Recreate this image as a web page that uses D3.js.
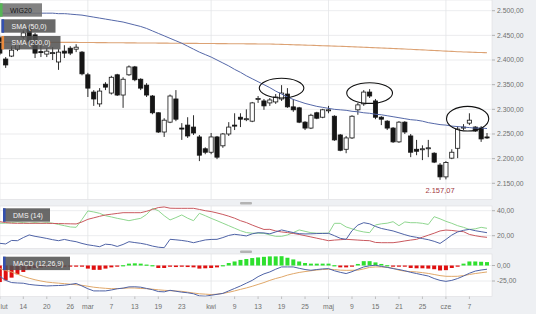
<!DOCTYPE html>
<html>
<head>
<meta charset="utf-8">
<script src="https://cdn.jsdelivr.net/npm/d3@7"></script>
<style>
  body { margin: 0; background: #fff; }
  svg { display: block; font-family: "Liberation Sans", Arial, sans-serif; }
</style>
</head>
<body>
<div id="chart"></div>
<script>
/* DATA */
const opens = [2445,2402,2408,2422,2447,2465,2451,2417,2412,2414,
  2396,2418,2424,2422,2416,2370,2335,2311,2351,2333,
  2370,2329,2370,2386,2361,2349,2327,2293,2254,2274,
  2321,2262,2268,2264,2244,2220,2213,2244,2226,2250,
  2268,2284,2280,2276,2321,2317,2313,2315,2321,2331,
  2305,2303,2274,2262,2293,2284,2298,2286,2248,2219,
  2242,2299,2311,2335,2317,2284,2276,2262,2234,2274,
  2246,2219,2219,2221,2211,2187,2163,2201,2221,2263,
  2272,2264,2262,2244];
const highs = [2449,2406,2428,2440,2460,2469,2455,2434,2424,2426,
  2422,2430,2428,2432,2418,2374,2339,2343,2355,2368,
  2372,2365,2389,2388,2363,2353,2329,2294,2282,2330,
  2339,2272,2284,2288,2248,2223,2252,2246,2252,2274,
  2292,2292,2300,2315,2327,2321,2323,2331,2349,2343,
  2321,2305,2276,2291,2295,2301,2307,2288,2250,2246,
  2288,2313,2339,2341,2321,2286,2278,2264,2276,2276,
  2250,2238,2227,2238,2213,2191,2195,2219,2266,2270,
  2292,2266,2266,2252];
const lows = [2410,2384,2406,2418,2443,2430,2404,2406,2406,2400,
  2380,2404,2410,2416,2369,2325,2307,2305,2339,2330,
  2327,2303,2368,2357,2339,2325,2290,2252,2244,2272,
  2276,2238,2242,2248,2195,2209,2209,2199,2222,2246,
  2258,2264,2276,2274,2313,2299,2307,2311,2317,2303,
  2295,2272,2258,2260,2280,2282,2292,2236,2215,2211,
  2240,2289,2307,2323,2280,2268,2258,2232,2232,2250,
  2203,2207,2197,2203,2191,2157.07,2158,2199,2201,2258,
  2268,2254,2234,2240];
const closes = [2414,2390,2420,2434,2455,2437,2414,2416,2418,2415,
  2416,2414,2414,2426,2372,2343,2321,2337,2345,2365,
  2329,2361,2386,2360,2343,2329,2293,2254,2278,2327,
  2280,2261,2246,2252,2207,2213,2244,2203,2250,2264,
  2267,2280,2281,2313,2322,2307,2319,2325,2333,2305,
  2299,2274,2262,2288,2282,2299,2299,2238,2217,2242,
  2286,2309,2335,2327,2284,2280,2262,2234,2274,2254,
  2213,2215,2220,2222,2193,2163,2192,2213,2260,2264,
  2278,2256,2240,2243];

const sma50 = [2495,2495,2495,2495,2495,2495,2495,2495,2495,2495,
  2494,2494,2493,2492,2491,2489,2487,2485,2483,2481,
  2479,2477,2474,2471,2468,2464,2459,2454,2449,2444,
  2439,2434,2428,2422,2416,2411,2406,2400,2394,2388,
  2381,2375,2368,2362,2356,2350,2344,2337,2331,2325,
  2320,2316,2312,2309,2306,2304,2302,2300,2299,2298,
  2296,2295,2293,2292,2290,2289,2287,2285,2283,2281,
  2279,2278,2276,2273,2271,2269,2268,2266,2265,2264,
  2263,2262,2262,2261];
const sma200 = [2436,2436,2436,2436,2436,2436,2435.9,2435.9,2435.9,2435.8,
  2435.8,2435.8,2435.7,2435.7,2435.6,2435.5,2435.4,2435.3,2435.2,2435.1,
  2435,2434.9,2434.8,2434.7,2434.6,2434.5,2434.4,2434.3,2434.2,2434.1,
  2434,2433.9,2433.8,2433.7,2433.6,2433.5,2433.4,2433.3,2433.2,2433.1,
  2433,2432.9,2432.8,2432.7,2432.6,2432.5,2432.4,2432.1,2431.8,2431.4,
  2431,2430.6,2430.2,2429.8,2429.4,2429,2428.6,2428.2,2427.8,2427.3,
  2426.8,2426.3,2425.8,2425.3,2424.8,2424.3,2423.8,2423.3,2422.8,2422.3,
  2421.7,2421.1,2420.5,2419.9,2419.3,2418.7,2418.1,2417.5,2416.9,2416.4,
  2415.9,2415.5,2415.1,2414.8];

const dmsPlus = [30,30,30.5,31,30.5,30,30.5,30,30.5,30,
  29,28,27,26.7,33,39.8,39,37.9,36,35,
  33.9,33,32,33,33.9,37,41.9,40,36,32.6,
  34.5,36.6,34,32,37.9,36,33.9,32,30,28,
  26,24,22.5,22,22,21.9,20.6,19.5,19.5,20.6,
  22.5,24.6,23.5,22.4,22,22,21.9,29.9,29.9,27,
  25.5,24,23,22.4,28.6,29.5,30,31.2,28,31,
  30.4,30.4,29.9,29,35.2,33.5,31.5,29.9,28,26.7,
  25,25.5,26.7,25.9];
const dmsMinus = [31.2,30.5,30,29.9,29.9,29.9,29.9,29.9,29.9,29.8,
  29.7,29.6,29.5,29.4,31,33.1,34.3,35.5,36.6,37.2,
  37.8,38.4,38.4,38.4,38.4,39.5,41,42.5,43,42,
  41.9,41.9,41.9,41.9,41,40,39.3,38.2,37,35.6,
  34,32,30.5,28.5,26.7,25,25.1,23.8,23,22.5,
  21.8,21,20,19,18,17,16,16.5,16.8,17.1,
  16.8,16.5,16.2,16,14.6,14.4,14.4,14.4,15,15.8,
  16.5,17.1,18.8,20.4,22,23.8,24.5,24.2,23.6,23.2,
  21,20,19.2,18.7];
const adx = [13.9,13.4,16.2,16,18.5,20.6,19.5,18.7,17.8,16.8,
  16,17,16,15.2,13.8,12.7,12,11.2,13.2,12.8,
  11.4,13,15.2,14.5,13.9,13,11.7,10.8,10.4,17.1,
  16.7,16.2,15.5,14.4,15.5,16.6,17,17.1,18.5,20.2,
  21.1,20.5,19.8,21.5,22.4,22.2,21.5,23,24.6,23.5,
  22.5,21.6,21.4,21.5,21.7,21.8,21.9,20,17.9,17.1,
  24,28.5,30.4,29.5,27.4,25.8,24.8,23.8,22.3,20.8,
  19.5,18.7,17.7,16.8,15.5,13.8,17,20.5,23,24.3,
  25.1,24,23.2,22.4];

const macd = [-17.4,-24,-27.5,-28.2,-28.6,-30.5,-31.6,-32.3,-33,-32.6,
  -32.3,-31.8,-30.5,-29,-33,-37.5,-41,-41,-41,-39.5,
  -37.5,-36.5,-34.5,-34.3,-35,-37,-39,-42,-42.5,-40,
  -41.5,-43,-44,-45.6,-49,-49.5,-48,-46.5,-45,-41,
  -37,-33,-28.5,-24,-18,-13.5,-10.4,-6,-2.3,-2.3,
  -2.3,-4.5,-6.5,-7.7,-6.5,-5.5,-5,-8.5,-11,-13,
  -10,-6,-2.3,-0.5,0.5,-1.5,-3,-5,-6.5,-8.5,
  -11,-13,-15,-17,-21,-24,-25.6,-24,-21,-17,
  -12.5,-9,-7.3,-6];
const signal = [-5,-8,-10.5,-14,-17.5,-20.5,-23,-25,-26.7,-27.7,
  -28.5,-29.3,-30.2,-31,-32,-33.5,-35,-36,-36.8,-37.4,
  -37.3,-36.8,-36.2,-36.3,-37,-37.4,-38.2,-39.2,-40,-40.6,
  -41.2,-41.7,-43,-44.4,-45.6,-46.2,-46.8,-46.3,-45,-43.2,
  -41,-38.5,-36.2,-33.5,-30.5,-27.5,-24,-21,-18.6,-15.5,
  -13.2,-11.2,-9.8,-8.5,-7.3,-6.5,-6,-6.6,-7.5,-7.8,
  -7.7,-7.5,-5.5,-3,-2.3,-2.3,-2.8,-4.5,-7.5,-9.2,
  -9.8,-10.4,-11.5,-12.8,-14.5,-16.3,-17.4,-17.5,-17.4,-16.2,
  -14.5,-13,-11.7,-10.4];
const hist = [-26.7,-24,-19.6,-14.2,-10.4,-6,-3.9,-3,-2.5,-2,
  -2,-1.5,-1.5,-1.5,-1,-5,-7,-7,-5,-3,
  -1.5,0.5,3,3.5,3,1.5,0.5,-4,-4,-2,
  -2.5,-2,-2.5,-3,-5,-4.5,-4,-3,0.5,4,
  6.5,9,10.5,12,13,14,14.7,14.7,15,12.5,
  9.8,6.5,4,3,3,3,3,0.5,-3,-3,
  -1,2.5,7,7,5,2.5,0.5,-1.5,-1.5,-1.5,
  -4,-4.5,-4.5,-5,-6,-8,-7.5,-4,-0.5,3,
  6.5,6.5,6,5.5];

const tickIndex = [0,4,8,12,15,19,23,27,31,36,40,44,48,52,56,60,64,68,72,76,80];
const tickLabels = ["lut","14","20","26","mar","7","13","19","23","kwi","9","13","19","25","maj","9","15","21","25","cze","7"];
const monthStarts = [15,36,56,76];
const priceTicks = [2150,2200,2250,2300,2350,2400,2450,2500];
const dmsTicks = [20,40];
const macdTicks = [-25,0];

// circled spots on the chart: candle index, price, half-width in candles, half-height in points
const marks = [
  { i: 48, price: 2343, rx: 3.8, ry: 20 },
  { i: 63, price: 2333, rx: 3.9, ry: 21 },
  { i: 79.7, price: 2281, rx: 3.6, ry: 25 }
];
const lowIndex = 75;

/* CONSTANTS */
const width = 536, height = 314, plotRight = 492;
const mainP = { top: 0, bottom: 199.5 };
const dmsP = { top: 206, bottom: 248.5 };
const macdP = { top: 254, bottom: 296.5 };

const pl = d3.formatLocale({ decimal: ",", thousands: ".", grouping: [3], currency: ["", ""], minus: "-" });
const fmt = pl.format(",.2f");

/* SCALES */
const xScale = d3.scaleLinear().domain([0, 83]).range([-0.17, 487]);
const yMain = d3.scaleLinear().domain([2150, 2500]).range([183.3, 10.7]);
const yDms = d3.scaleLinear().domain([20, 40]).range([235.7, 210.7]);
const yMacd = d3.scaleLinear().domain([-25, 0]).range([281, 265.5]);

const svg = d3.select("#chart").append("svg")
  .attr("width", width)
  .attr("height", height);

svg.append("rect").attr("width", width).attr("height", height).attr("fill", "#eef0f3");

const defs = svg.append("defs");
[["clipMain", mainP], ["clipDms", dmsP], ["clipMacd", macdP]].forEach(([id, p]) => {
  defs.append("clipPath").attr("id", id)
    .append("rect").attr("x", 0).attr("y", p.top).attr("width", plotRight).attr("height", p.bottom - p.top);
});

// panel backgrounds
[mainP, dmsP, macdP].forEach(p => {
  svg.append("rect")
    .attr("x", 0).attr("y", p.top)
    .attr("width", plotRight).attr("height", p.bottom - p.top)
    .attr("fill", "#fff")
    .attr("stroke", "#dcdde0").attr("stroke-width", 0.6);
});

// panel drag handles
[202, 250.5].forEach(y => {
  svg.append("rect").attr("x", 240).attr("y", y).attr("width", 12).attr("height", 2.6)
    .attr("rx", 1).attr("fill", "#b3b3b3");
});

/* GRID */
function hGrid(scale, ticks) {
  svg.append("g").selectAll("line").data(ticks).join("line")
    .attr("x1", 0).attr("x2", plotRight)
    .attr("y1", d => scale(d)).attr("y2", d => scale(d))
    .attr("stroke", "#e6e7ea").attr("stroke-width", 0.8);
  svg.append("g").selectAll("line").data(ticks).join("line")
    .attr("x1", plotRight).attr("x2", plotRight + 3)
    .attr("y1", d => scale(d)).attr("y2", d => scale(d))
    .attr("stroke", "#999").attr("stroke-width", 0.7);
  svg.append("g").selectAll("text").data(ticks).join("text")
    .attr("x", plotRight + 5)
    .attr("y", d => scale(d))
    .attr("dy", "0.35em")
    .attr("font-size", "6.8px")
    .attr("fill", "#707070")
    .text(d => fmt(d));
}
hGrid(yMain, priceTicks);
hGrid(yDms, dmsTicks);
hGrid(yMacd, macdTicks);

[mainP, dmsP, macdP].forEach(p => {
  svg.append("g").selectAll("line").data(monthStarts).join("line")
    .attr("x1", d => xScale(d)).attr("x2", d => xScale(d))
    .attr("y1", p.top).attr("y2", p.bottom)
    .attr("stroke", "#e3e4e7").attr("stroke-width", 0.8);
});

/* X AXIS */
svg.append("g").selectAll("line").data(tickIndex).join("line")
  .attr("x1", d => xScale(d)).attr("x2", d => xScale(d))
  .attr("y1", macdP.bottom).attr("y2", macdP.bottom + 2.5)
  .attr("stroke", "#aaa").attr("stroke-width", 0.7);
// the first label would run off the left edge, so it starts at the edge instead
svg.append("g").selectAll("text").data(tickIndex).join("text")
  .attr("x", d => Math.max(0.5, xScale(d)))
  .attr("y", 309)
  .attr("text-anchor", d => xScale(d) < 6 ? "start" : "middle")
  .attr("font-size", "6.8px")
  .attr("fill", "#707070")
  .text((d, k) => tickLabels[k]);

/* CANDLES */
const candles = d3.range(opens.length).map(i => ({
  i, o: opens[i], h: highs[i], l: lows[i], c: closes[i]
}));
const gMain = svg.append("g").attr("clip-path", "url(#clipMain)");

gMain.append("g").selectAll("line").data(candles).join("line")
  .attr("x1", d => xScale(d.i)).attr("x2", d => xScale(d.i))
  .attr("y1", d => yMain(d.h)).attr("y2", d => yMain(d.l))
  .attr("stroke", "#151515").attr("stroke-width", 0.9);

gMain.append("g").selectAll("rect").data(candles).join("rect")
  .attr("x", d => xScale(d.i) - 2.1)
  .attr("width", 4.2)
  .attr("y", d => yMain(Math.max(d.o, d.c)))
  .attr("height", d => Math.max(1, Math.abs(yMain(d.o) - yMain(d.c))))
  .attr("fill", d => d.c >= d.o ? "#fff" : "#151515")
  .attr("stroke", "#151515").attr("stroke-width", 0.8);

/* MOVING AVERAGES */
const lineMain = d3.line().x((d, i) => xScale(i)).y(d => yMain(d)).curve(d3.curveMonotoneX);
gMain.append("path").datum(sma200).attr("d", lineMain)
  .attr("fill", "none").attr("stroke", "#dca274").attr("stroke-width", 1.1);
gMain.append("path").datum(sma50).attr("d", lineMain)
  .attr("fill", "none").attr("stroke", "#5568a8").attr("stroke-width", 1);

// circled spots
gMain.append("g").selectAll("ellipse").data(marks).join("ellipse")
  .attr("cx", d => xScale(d.i))
  .attr("cy", d => yMain(d.price))
  .attr("rx", d => xScale(d.i + d.rx) - xScale(d.i))
  .attr("ry", d => yMain(d.price - d.ry) - yMain(d.price))
  .attr("fill", "none").attr("stroke", "#111").attr("stroke-width", 1.1);

// lowest price label
svg.append("text")
  .attr("x", xScale(lowIndex))
  .attr("y", yMain(lows[lowIndex]) + 13)
  .attr("text-anchor", "middle")
  .attr("font-size", "7.5px")
  .attr("fill", "#a33a44")
  .text(fmt(lows[lowIndex]));

/* DMS */
const gDms = svg.append("g").attr("clip-path", "url(#clipDms)");
const lineDms = d3.line().x((d, i) => xScale(i)).y(d => yDms(d));
[[dmsPlus, "#8fd68f"], [dmsMinus, "#c9595f"], [adx, "#4f63a6"]].forEach(([s, col]) => {
  gDms.append("path").datum(s).attr("d", lineDms)
    .attr("fill", "none").attr("stroke", col).attr("stroke-width", 1);
});

/* MACD */
const gMacd = svg.append("g").attr("clip-path", "url(#clipMacd)");
gMacd.append("g").selectAll("rect").data(hist).join("rect")
  .attr("x", (d, i) => xScale(i) - 2)
  .attr("width", 4)
  .attr("y", d => d >= 0 ? yMacd(d) : yMacd(0))
  .attr("height", d => Math.max(1.2, Math.abs(yMacd(d) - yMacd(0))))
  .attr("fill", d => d >= 0 ? "#2ee02e" : "#e01010");
const lineMacd = d3.line().x((d, i) => xScale(i)).y(d => yMacd(d));
gMacd.append("path").datum(signal).attr("d", lineMacd)
  .attr("fill", "none").attr("stroke", "#e0a86a").attr("stroke-width", 1);
gMacd.append("path").datum(macd).attr("d", lineMacd)
  .attr("fill", "none").attr("stroke", "#4f63a6").attr("stroke-width", 1);

/* LEGEND BOXES */
const legends = [
  { text: "WIG20", x: 0, y: 3.3, w: 42, col: "#56b556", box: "#6e6e6e", ink: "#151515" },
  { text: "SMA (50,0)", x: 1.5, y: 19.3, w: 54, col: "#3350b0", box: "#505050", ink: "#f4f4f4" },
  { text: "SMA (200,0)", x: 1.5, y: 36, w: 59, col: "#ea8a3c", box: "#505050", ink: "#f4f4f4" },
  { text: "DMS (14)", x: 3, y: 208.3, w: 47, col: "#3350b0", box: "#505050", ink: "#f4f4f4" },
  { text: "MACD (12,26,9)", x: 3, y: 256.7, w: 67, col: "#3350b0", box: "#505050", ink: "#f4f4f4" }
];
const lg = svg.append("g").selectAll("g").data(legends).join("g")
  .attr("transform", d => `translate(${d.x},${d.y})`);
lg.append("rect").attr("width", d => d.w).attr("height", 13.4)
  .attr("fill", d => d.box).attr("opacity", 0.86);
lg.append("rect").attr("width", 2.6).attr("height", 13.4).attr("fill", d => d.col);
lg.append("text")
  .attr("x", 10).attr("y", 9.3)
  .attr("font-size", "7px")
  .attr("fill", d => d.ink)
  .text(d => d.text);
</script>
</body>
</html>
